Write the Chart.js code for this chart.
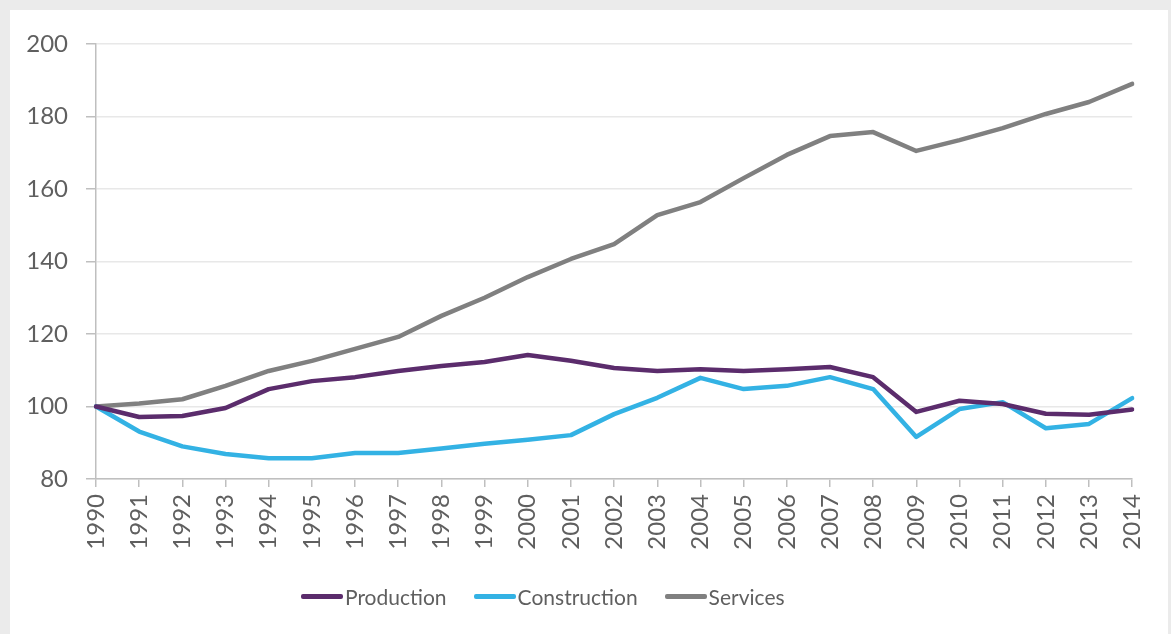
<!DOCTYPE html>
<html>
<head>
<meta charset="utf-8">
<script src="https://cdn.jsdelivr.net/npm/chart.js@4"></script>
<style>
  html, body { margin: 0; padding: 0; }
  body { width: 1171px; height: 634px; background: #ebebeb; position: relative; overflow: hidden; font-family: Lato, "Open Sans", sans-serif; }
  #panel { position: absolute; left: 10px; top: 10px; width: 1158px; height: 640px; background: #fff; }
  #wrap { position: absolute; left: 0; top: 0; width: 1158px; height: 600px; }
  #legend { position: absolute; left: 291px; top: 574px; display: flex; align-items: center; color: #5f5f5f; font-size: 21px; }
  #legend .item { display: flex; align-items: center; margin-right: 27px; }
  #legend .swatch { width: 42px; height: 4.5px; border-radius: 2px; margin-right: 2px; }
</style>
</head>
<body>
<div id="panel">
  <div id="wrap"><canvas id="chart"></canvas></div>
  <div id="legend"></div>
</div>
<script>
var years = ['1990','1991','1992','1993','1994','1995','1996','1997','1998','1999','2000','2001','2002',
             '2003','2004','2005','2006','2007','2008','2009','2010','2011','2012','2013','2014'];

var production = [100, 97.1, 97.4, 99.6, 104.8, 107, 108.1, 109.8, 111.2, 112.3, 114.2, 112.6, 110.6,
                  109.8, 110.3, 109.8, 110.3, 110.9, 108.1, 98.5, 101.6, 100.7, 98, 97.7, 99.2];
var construction = [100, 93.1, 89, 86.9, 85.7, 85.7, 87.2, 87.2, 88.4, 89.7, 90.8, 92.1, 97.9,
                    102.4, 107.9, 104.8, 105.7, 108.1, 104.8, 91.6, 99.3, 101.2, 94, 95.2, 102.3];
var services = [100, 100.8, 102, 105.7, 109.8, 112.6, 115.9, 119.2, 125, 130, 135.7, 140.7, 144.8,
                152.8, 156.4, 163, 169.4, 174.6, 175.7, 170.5, 173.5, 176.8, 180.7, 184, 189];

var yTicks = [80, 100, 120, 140, 160, 180, 200];

var seriesNames = ['Production', 'Construction', 'Services'];
var seriesColors = ['#5b2c6c', '#33b2e4', '#808080'];
var seriesValues = [production, construction, services];

var textColor = '#5f5f5f';
var axisColor = '#bfbfbf';

var datasets = seriesNames.map(function (name, i) {
    return {
        label: name,
        data: seriesValues[i],
        borderColor: seriesColors[i],
        backgroundColor: seriesColors[i],
        borderWidth: 4.5,
        pointRadius: 0,
        tension: 0,
        borderJoinStyle: 'round',
        borderCapStyle: 'round'
    };
});

var ctx = document.getElementById('chart').getContext('2d');
var chart = new Chart(ctx, {
    type: 'line',
    data: { labels: years, datasets: datasets },
    options: {
        responsive: true,
        maintainAspectRatio: false,
        animation: false,
        layout: { padding: { left: 0, top: 34, right: 34, bottom: 0 } },
        plugins: {
            legend: { display: false },
            tooltip: { enabled: false }
        },
        scales: {
            x: {
                offset: false,
                afterFit: function (scale) { scale.height = 131; },
                grid: { drawOnChartArea: false, color: axisColor, tickColor: axisColor, tickLength: 8, lineWidth: 1.5 },
                border: { color: axisColor, width: 1.5 },
                ticks: { color: textColor, font: { family: 'Lato', size: 24 }, minRotation: 90, maxRotation: 90, padding: 7, autoSkip: false }
            },
            y: {
                min: 80,
                max: 200,
                afterFit: function (scale) { scale.width = 86; },
                afterBuildTicks: function (scale) {
                    scale.ticks = yTicks.map(function (v) { return { value: v }; });
                },
                grid: { color: '#e8e8e8', tickColor: axisColor, tickLength: 10, lineWidth: 1.5 },
                border: { color: axisColor, width: 1.5 },
                ticks: { color: textColor, font: { family: 'Lato', size: 24 }, padding: 18 }
            }
        }
    }
});

// legend built from the datasets
var legend = document.getElementById('legend');
chart.data.datasets.forEach(function (ds) {
    var item = document.createElement('div');
    item.className = 'item';
    var sw = document.createElement('span');
    sw.className = 'swatch';
    sw.style.background = ds.borderColor;
    var txt = document.createElement('span');
    txt.textContent = ds.label;
    item.appendChild(sw);
    item.appendChild(txt);
    legend.appendChild(item);
});
</script>
</body>
</html>
